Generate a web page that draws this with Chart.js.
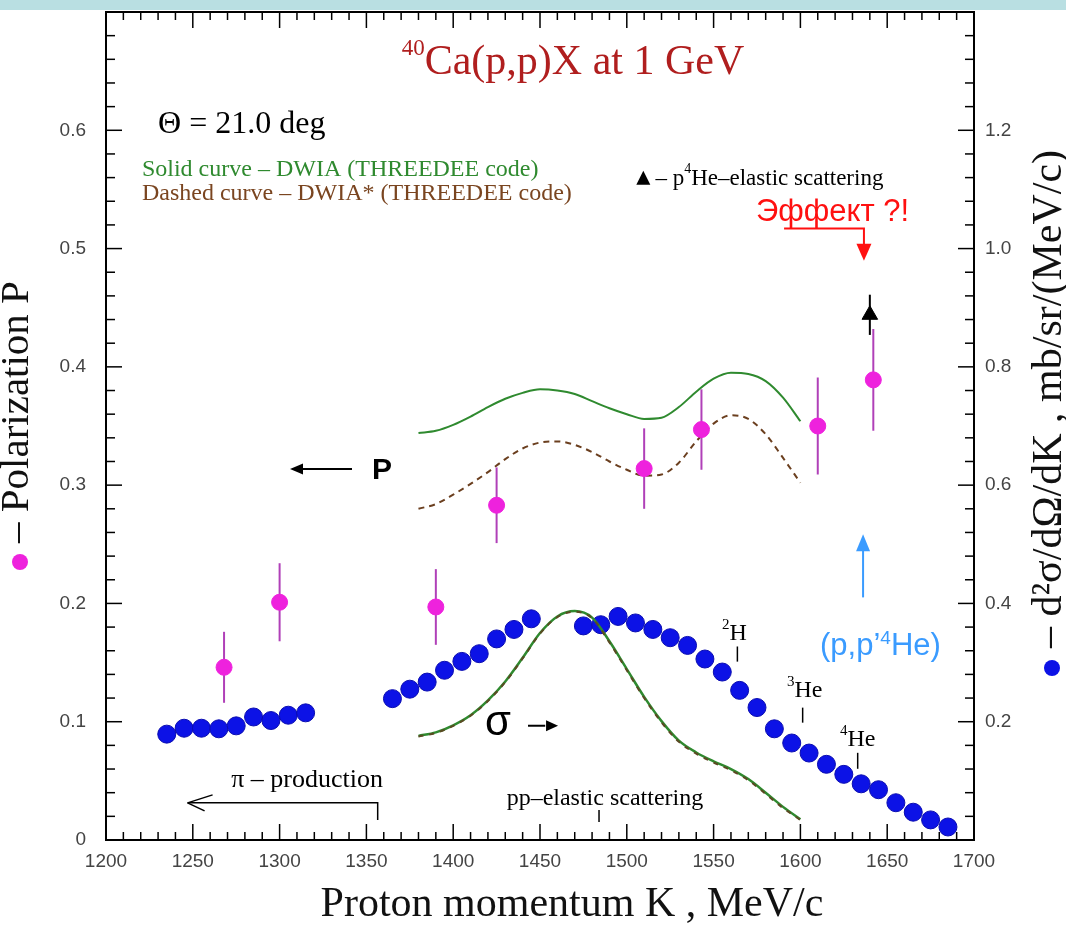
<!DOCTYPE html>
<html>
<head>
<meta charset="utf-8">
<script src="https://cdn.jsdelivr.net/npm/chart.js@4.4.1/dist/chart.umd.min.js"></script>
<style>
  html, body { margin: 0; padding: 0; background: #fff; }
  canvas { display: block; }
</style>
</head>
<body>
<canvas id="chart" width="1066" height="937"></canvas>
<script>
// cross section d2sigma/dOmega/dK (right axis), MeV/c
const sigmaK = [1235, 1245, 1255, 1265, 1275, 1285, 1295, 1305, 1315,
  1365, 1375, 1385, 1395, 1405, 1415, 1425, 1435, 1445,
  1475, 1485, 1495, 1505, 1515, 1525, 1535, 1545, 1555, 1565, 1575,
  1585, 1595, 1605, 1615, 1625, 1635, 1645, 1655, 1665, 1675, 1685];
const sigmaVal = [0.179, 0.189, 0.189, 0.188, 0.193, 0.208, 0.202, 0.211, 0.215,
  0.239, 0.255, 0.267, 0.287, 0.302, 0.315, 0.340, 0.356, 0.374,
  0.362, 0.364, 0.378, 0.367, 0.356, 0.342, 0.329, 0.306, 0.284, 0.253, 0.224,
  0.188, 0.164, 0.147, 0.128, 0.111, 0.095, 0.085, 0.063, 0.047, 0.034, 0.022];

// polarization P (left axis)
const polK = [1268, 1300, 1390, 1425, 1510, 1543, 1610, 1642];
const polVal = [0.146, 0.201, 0.197, 0.283, 0.314, 0.347, 0.350, 0.389];
const polErr = [0.030, 0.033, 0.032, 0.032, 0.034, 0.034, 0.041, 0.043];

// p4He elastic scattering point
const heK = [1640];
const heVal = [0.444];
const heErr = [0.017];

// DWIA curves
const curveK = [1380, 1390, 1400, 1410, 1420, 1430, 1440, 1450, 1460, 1470, 1480, 1490,
  1500, 1510, 1520, 1530, 1540, 1550, 1560, 1570, 1580, 1590, 1600];
const polSolid = [0.344, 0.346, 0.351, 0.358, 0.366, 0.373, 0.378, 0.381, 0.380, 0.377, 0.371, 0.365,
  0.360, 0.356, 0.357, 0.366, 0.379, 0.390, 0.395, 0.394, 0.388, 0.374, 0.354];
const polDashed = [0.280, 0.284, 0.292, 0.301, 0.311, 0.322, 0.331, 0.336, 0.337, 0.334, 0.328, 0.320,
  0.313, 0.308, 0.309, 0.319, 0.337, 0.352, 0.359, 0.356, 0.343, 0.323, 0.302];
const sigmaSolid = [0.176, 0.182, 0.194, 0.211, 0.236, 0.268, 0.308, 0.350, 0.378, 0.387, 0.376, 0.336,
  0.289, 0.242, 0.201, 0.168, 0.148, 0.133, 0.120, 0.103, 0.080, 0.056, 0.035];
const sigmaDashed = [0.175, 0.181, 0.193, 0.210, 0.235, 0.267, 0.307, 0.349, 0.377, 0.386, 0.375, 0.334,
  0.287, 0.240, 0.199, 0.166, 0.146, 0.131, 0.118, 0.101, 0.078, 0.054, 0.034];

const toPoints = (xs, ys) => xs.map((x, i) => ({ x: x, y: ys[i] }));

const SERIF = "'Liberation Serif', 'DejaVu Serif', serif";
const SANS = "'Liberation Sans', Arial, sans-serif";

const drawParts = (ctx, parts, x, y) => {
  let cx = x;
  parts.forEach((p) => {
    ctx.font = p.font;
    ctx.fillText(p.t, cx, y + (p.dy || 0));
    cx += ctx.measureText(p.t).width;
  });
  return cx;
};

const partsWidth = (ctx, parts) => {
  let w = 0;
  parts.forEach((p) => {
    ctx.font = p.font;
    w += ctx.measureText(p.t).width;
  });
  return w;
};

const head = (ctx, x, y, dx, dy, len, half) => {
  // filled arrow head with tip at (x, y), pointing along (dx, dy)
  ctx.beginPath();
  ctx.moveTo(x, y);
  ctx.lineTo(x - dx * len - dy * half, y - dy * len + dx * half);
  ctx.lineTo(x - dx * len + dy * half, y - dy * len - dx * half);
  ctx.closePath();
  ctx.fill();
};

const line = (ctx, x1, y1, x2, y2) => {
  ctx.beginPath();
  ctx.moveTo(x1, y1);
  ctx.lineTo(x2, y2);
  ctx.stroke();
};

const decor = {
  id: "decor",
  beforeDraw(chart) {
    const ctx = chart.ctx;
    ctx.save();
    ctx.fillStyle = "#b9dfe2";
    ctx.fillRect(0, 0, chart.width, 10);
    ctx.restore();
  },
  beforeDatasetsDraw(chart) {
    const ctx = chart.ctx;
    const X = (v) => chart.scales.x.getPixelForValue(v);
    const Y = (v) => chart.scales.y.getPixelForValue(v);
    ctx.save();
    ctx.lineWidth = 2;
    ctx.strokeStyle = "#b040b8";
    polK.forEach((k, i) => line(ctx, X(k), Y(polVal[i] - polErr[i]), X(k), Y(polVal[i] + polErr[i])));
    ctx.strokeStyle = "#000";
    heK.forEach((k, i) => line(ctx, X(k), Y(heVal[i] - heErr[i]), X(k), Y(heVal[i] + heErr[i])));
    ctx.restore();
  },
  afterDatasetsDraw(chart) {
    const ctx = chart.ctx;
    const a = chart.chartArea;
    const xs = chart.scales.x, ys = chart.scales.y, ys2 = chart.scales.y2;
    const X = (v) => xs.getPixelForValue(v);
    const Y = (v) => ys.getPixelForValue(v);
    ctx.save();

    // frame and inward ticks
    ctx.strokeStyle = "#000";
    ctx.lineWidth = 2;
    ctx.strokeRect(a.left, a.top, a.right - a.left, a.bottom - a.top);
    ctx.lineWidth = 1.5;
    for (let i = 0; i <= 35; i++) {
      const len = i % 5 === 0 ? 16 : 9;
      const yl = ys.getPixelForValue(i * 0.02);
      const yr = ys2.getPixelForValue(i * 0.04);
      line(ctx, a.left, yl, a.left + len, yl);
      line(ctx, a.right, yr, a.right - len, yr);
    }
    for (let k = 1200; k <= 1700; k += 10) {
      const len = k % 50 === 0 ? 16 : 8;
      const xp = X(k);
      line(ctx, xp, a.bottom, xp, a.bottom - len);
      line(ctx, xp, a.top, xp, a.top + len);
    }

    ctx.textBaseline = "alphabetic";
    ctx.textAlign = "left";

    // title
    ctx.fillStyle = "#b01e1e";
    const titleParts = [
      { t: "40", font: `23px ${SERIF}`, dy: -19 },
      { t: "Ca(p,p)X at 1 GeV", font: `42px ${SERIF}` },
    ];
    drawParts(ctx, titleParts, X(1469) - partsWidth(ctx, titleParts) / 2, Y(0.6475));

    // angle
    ctx.fillStyle = "#000";
    ctx.font = `32px ${SERIF}`;
    ctx.fillText("\u0398 = 21.0 deg", X(1230), Y(0.5975));

    // curve legend
    ctx.font = `24px ${SERIF}`;
    ctx.fillStyle = "#2f8a2f";
    ctx.fillText("Solid curve \u2013 DWIA (THREEDEE code)", X(1220.7), Y(0.561));
    ctx.fillStyle = "#7a4520";
    ctx.fillText("Dashed curve \u2013 DWIA* (THREEDEE code)", X(1220.7), Y(0.5407));

    // triangle legend
    ctx.fillStyle = "#000";
    const tx = X(1509.5), ty = Y(0.559);
    ctx.beginPath();
    ctx.moveTo(tx, ty - 8);
    ctx.lineTo(tx + 7, ty + 6);
    ctx.lineTo(tx - 7, ty + 6);
    ctx.closePath();
    ctx.fill();
    drawParts(ctx, [
      { t: "\u2013 p", font: `23px ${SERIF}` },
      { t: "4", font: `14px ${SERIF}`, dy: -12 },
      { t: "He\u2013elastic scattering", font: `23px ${SERIF}` },
    ], X(1516.5), Y(0.5534));

    // Effect ?!
    ctx.fillStyle = "#ff1010";
    ctx.strokeStyle = "#ff1010";
    ctx.font = `31px ${SANS}`;
    ctx.fillText("\u042D\u0444\u0444\u0435\u043A\u0442 ?!", X(1574.4), Y(0.5229));
    ctx.lineWidth = 2;
    ctx.beginPath();
    ctx.moveTo(X(1590.6), Y(0.517));
    ctx.lineTo(X(1636.6), Y(0.517));
    ctx.lineTo(X(1636.6), Y(0.503));
    ctx.stroke();
    head(ctx, X(1636.6), Y(0.4898), 0, 1, 17, 7.5);

    // (p,p'4He)
    ctx.fillStyle = "#3a9bff";
    ctx.strokeStyle = "#3a9bff";
    drawParts(ctx, [
      { t: "(p,p\u2019", font: `31px ${SANS}` },
      { t: "4", font: `19px ${SANS}`, dy: -11 },
      { t: "He)", font: `31px ${SANS}` },
    ], X(1611.3), Y(0.1568));
    line(ctx, X(1636.1), Y(0.2051), X(1636.1), Y(0.245));
    head(ctx, X(1636.1), Y(0.2585), 0, -1, 17, 7);

    // P arrow
    ctx.fillStyle = "#000";
    ctx.strokeStyle = "#000";
    ctx.lineWidth = 2;
    line(ctx, X(1341.7), Y(0.3136), X(1312), Y(0.3136));
    head(ctx, X(1306), Y(0.3136), -1, 0, 13, 5.5);
    ctx.font = `bold 30px ${SANS}`;
    ctx.textBaseline = "middle";
    ctx.fillText("P", X(1353.2), Y(0.3119));

    // sigma arrow
    ctx.font = `42px ${SANS}`;
    ctx.fillText("\u03C3", X(1418.3), Y(0.0985));
    line(ctx, X(1443.1), Y(0.0966), X(1453), Y(0.0966));
    head(ctx, X(1460.4), Y(0.0966), 1, 0, 12, 5.5);

    // pi production
    ctx.textAlign = "center";
    ctx.font = `26px ${SERIF}`;
    ctx.fillText("\u03C0 \u2013 production", X(1315.8), Y(0.0508));
    ctx.lineWidth = 1.5;
    ctx.beginPath();
    ctx.moveTo(X(1356.5), Y(0.0169));
    ctx.lineTo(X(1356.5), Y(0.0314));
    ctx.lineTo(X(1247), Y(0.0314));
    ctx.stroke();
    line(ctx, X(1247), Y(0.0314), X(1247) + 25, Y(0.0314) - 8);
    line(ctx, X(1247), Y(0.0314), X(1247) + 17, Y(0.0314) + 8);

    // pp elastic scattering
    ctx.font = `24px ${SERIF}`;
    ctx.fillText("pp\u2013elastic scattering", X(1487.4), Y(0.0347));
    line(ctx, X(1484), Y(0.0254), X(1484), Y(0.0153));

    // light nuclei markers
    ctx.textAlign = "left";
    ctx.textBaseline = "alphabetic";
    const nuclei = [
      { n: "2", s: "H", k: 1554.8, p: 0.1695, tk: 1563.7, t1: 0.1636, t2: 0.1508 },
      { n: "3", s: "He", k: 1592.3, p: 0.1212, tk: 1601.3, t1: 0.1119, t2: 0.0992 },
      { n: "4", s: "He", k: 1622.8, p: 0.0797, tk: 1633, t1: 0.0737, t2: 0.0602 },
    ];
    nuclei.forEach((d) => {
      drawParts(ctx, [
        { t: d.n, font: `15px ${SERIF}`, dy: -11 },
        { t: d.s, font: `24px ${SERIF}` },
      ], X(d.k), Y(d.p));
      line(ctx, X(d.tk), Y(d.t1), X(d.tk), Y(d.t2));
    });
    ctx.restore();
  },
  afterDraw(chart) {
    const ctx = chart.ctx;
    ctx.save();
    ctx.fillStyle = "#111";
    ctx.textBaseline = "middle";
    ctx.textAlign = "center";
    ctx.font = `42px ${SERIF}`;
    ctx.fillText("Proton momentum K , MeV/c", 572, 905);

    // left axis title
    ctx.textAlign = "left";
    ctx.font = `41px ${SERIF}`;
    ctx.save();
    ctx.translate(17, 543);
    ctx.rotate(-Math.PI / 2);
    ctx.fillText("\u2013 Polarization P", 0, 0);
    ctx.restore();
    ctx.fillStyle = "#ee22dd";
    ctx.beginPath();
    ctx.arc(20, 562, 8, 0, Math.PI * 2);
    ctx.fill();

    // right axis title
    ctx.fillStyle = "#111";
    ctx.font = `42px ${SERIF}`;
    ctx.save();
    ctx.translate(1050, 648);
    ctx.rotate(-Math.PI / 2);
    ctx.fillText("\u2013 d\u00B2\u03C3/d\u03A9/dK , mb/sr/(MeV/c)", 0, 0);
    ctx.restore();
    ctx.fillStyle = "#0c12e6";
    ctx.beginPath();
    ctx.arc(1052, 668, 8, 0, Math.PI * 2);
    ctx.fill();
    ctx.restore();
  },
};

const tickFont = { family: "'Liberation Sans', Arial, sans-serif", size: 19 };

// fixed axis boxes so the plot frame lands where the reference has it
const fixVertical = (w) => (s) => {
  s.width = w;
  s.paddingTop = 0;
  s.paddingBottom = 0;
};

new Chart(document.getElementById("chart").getContext("2d"), {
  type: "scatter",
  data: {
    datasets: [
      {
        label: "P",
        data: toPoints(polK, polVal),
        yAxisID: "y",
        pointRadius: 8,
        pointBackgroundColor: "#ee22dd",
        pointBorderColor: "#ee22dd",
        order: 0,
      },
      {
        label: "p4He",
        data: toPoints(heK, heVal),
        yAxisID: "y",
        pointStyle: "triangle",
        pointRadius: 9,
        pointBackgroundColor: "#000",
        pointBorderColor: "#000",
        order: 0,
      },
      {
        label: "sigma DWIA",
        type: "line",
        data: toPoints(curveK, sigmaSolid),
        yAxisID: "y2",
        borderColor: "#2f8a2f",
        borderWidth: 2.5,
        pointRadius: 0,
        cubicInterpolationMode: "monotone",
        order: 2,
      },
      {
        label: "sigma DWIA*",
        type: "line",
        data: toPoints(curveK, sigmaDashed),
        yAxisID: "y2",
        borderColor: "#5a4a22",
        borderWidth: 2,
        borderDash: [5, 6],
        pointRadius: 0,
        cubicInterpolationMode: "monotone",
        order: 1,
      },
      {
        label: "sigma",
        data: toPoints(sigmaK, sigmaVal),
        yAxisID: "y2",
        pointRadius: 9,
        pointBackgroundColor: "#0c12e6",
        pointBorderColor: "#0a0cb0",
        pointBorderWidth: 1,
        order: 3,
      },
      {
        label: "P DWIA",
        type: "line",
        data: toPoints(curveK, polSolid),
        yAxisID: "y",
        borderColor: "#2f8a2f",
        borderWidth: 2,
        pointRadius: 0,
        cubicInterpolationMode: "monotone",
        order: 4,
      },
      {
        label: "P DWIA*",
        type: "line",
        data: toPoints(curveK, polDashed),
        yAxisID: "y",
        borderColor: "#6b3f1f",
        borderWidth: 2,
        borderDash: [6, 5],
        pointRadius: 0,
        cubicInterpolationMode: "monotone",
        order: 4,
      },
    ],
  },
  options: {
    responsive: false,
    animation: false,
    devicePixelRatio: 1,
    layout: { padding: { top: 12, left: 0, right: 0, bottom: 0 } },
    plugins: { legend: { display: false }, tooltip: { enabled: false } },
    scales: {
      x: {
        type: "linear",
        position: "bottom",
        min: 1200,
        max: 1700,
        grid: { display: false, drawTicks: false },
        border: { display: false },
        ticks: {
          stepSize: 50,
          padding: 10,
          color: "#444",
          font: tickFont,
          maxRotation: 0,
          callback: (v) => String(v),
        },
        afterFit: (s) => {
          s.height = 97;
          s.paddingLeft = 0;
          s.paddingRight = 0;
        },
      },
      y: {
        type: "linear",
        position: "left",
        min: 0,
        max: 0.7,
        grid: { display: false, drawTicks: false },
        border: { display: false },
        ticks: {
          stepSize: 0.1,
          padding: 20,
          color: "#444",
          font: tickFont,
          callback: (v) => (v < 0.01 ? "0" : v > 0.65 ? "" : v.toFixed(1)),
        },
        afterFit: fixVertical(106),
      },
      y2: {
        type: "linear",
        position: "right",
        min: 0,
        max: 1.4,
        grid: { display: false, drawTicks: false },
        border: { display: false },
        ticks: {
          stepSize: 0.2,
          padding: 11,
          color: "#444",
          font: tickFont,
          callback: (v) => (v < 0.01 || v > 1.3 ? "" : v.toFixed(1)),
        },
        afterFit: fixVertical(92),
      },
    },
  },
  plugins: [decor],
});
</script>
</body>
</html>
